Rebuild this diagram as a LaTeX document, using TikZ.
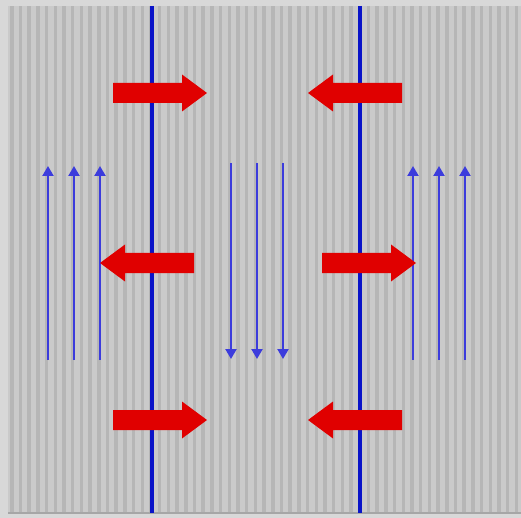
\documentclass[tikz,border=0pt]{standalone}
\usetikzlibrary{arrows.meta}
\definecolor{outerbg}{HTML}{D8D8D8}
\definecolor{stripebase}{HTML}{CACACA}
\definecolor{stripedark}{HTML}{B6B6B6}
\definecolor{wallblue}{HTML}{0A14C8}
\definecolor{flowblue}{HTML}{3C3CDC}
\definecolor{forcered}{HTML}{E00000}
\tikzset{
  wall/.style={wallblue, line width=4pt},
  flow/.style={flowblue, line width=2.2pt, -{Triangle[width=11pt,length=10pt]}},
  redarrow/.pic={\fill[forcered] (0,-10) -- (69,-10) -- (69,-18.5) -- (94,0) -- (69,18.5) -- (69,10) -- (0,10) -- cycle;}
}
\begin{document}
\begin{tikzpicture}[x=1pt,y=-1pt]
\useasboundingbox (0,0) rectangle (521,518);
\fill[outerbg] (0,0) rectangle (521,518);
\fill[stripebase] (8,6) rectangle (521,513);
\foreach \i in {0,...,58} {
  \fill[stripedark] ({10+\i*8.7},6) rectangle ({13.5+\i*8.7},513);
}
\fill[black!35] (8,512) rectangle (521,514);
% walls
\coordinate (wl-top) at (152,6);
\coordinate (wl-bot) at (152,513);
\coordinate (wr-top) at (360,6);
\coordinate (wr-bot) at (360,513);
\draw[wall] (wl-top) -- (wl-bot);
\draw[wall] (wr-top) -- (wr-bot);
% flow arrows
\foreach \x in {48,74,100} {
  \coordinate (ls\x) at (\x,360);
  \coordinate (le\x) at (\x,166);
  \draw[flow] (ls\x) -- (le\x);
}
\foreach \x in {231,257,283} {
  \coordinate (ms\x) at (\x,163);
  \coordinate (me\x) at (\x,359);
  \draw[flow] (ms\x) -- (me\x);
}
\foreach \x in {413,439,465} {
  \coordinate (rs\x) at (\x,360);
  \coordinate (re\x) at (\x,166);
  \draw[flow] (rs\x) -- (re\x);
}
% red force arrows
\pic at (113,93) {redarrow};
\pic[xscale=-1] at (402,93) {redarrow};
\pic[xscale=-1] at (194,263) {redarrow};
\pic at (322,263) {redarrow};
\pic at (113,420) {redarrow};
\pic[xscale=-1] at (402,420) {redarrow};
\end{tikzpicture}
\end{document}
